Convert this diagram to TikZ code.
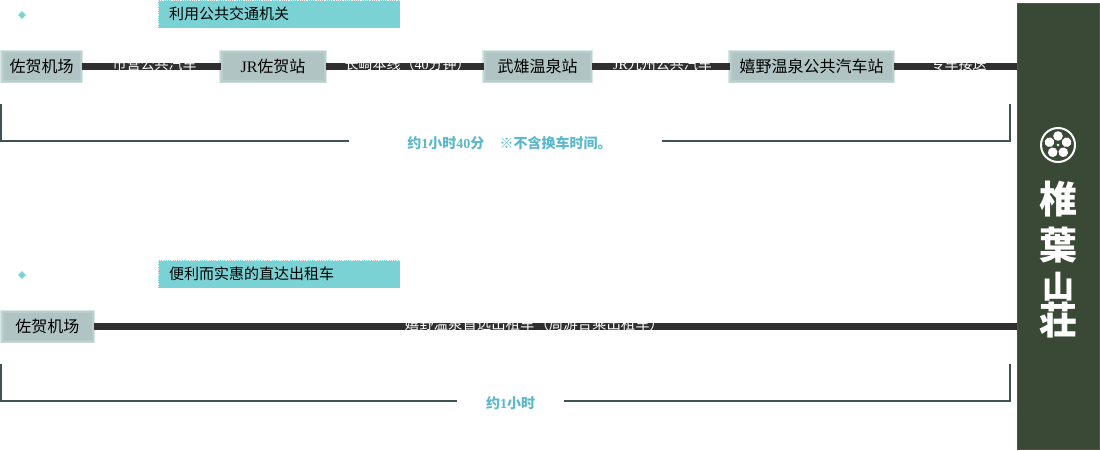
\documentclass[tikz,border=0pt]{standalone}
\usepackage{fontspec}
\setmainfont{Noto Sans CJK SC}
\newfontfamily\logofont{Noto Sans CJK JP}
\newfontfamily\latinfont{Liberation Serif}
\usepackage{tikz}
\usetikzlibrary{
    positioning,
    calc,
    shapes.geometric
}
\definecolor{tealBox}{RGB}{122, 210, 212}
\definecolor{barDark}{RGB}{47, 47, 47}
\definecolor{bracketGrey}{RGB}{64, 82, 84}
\definecolor{timeBlue}{RGB}{91, 184, 204}
\definecolor{stationMid}{RGB}{176, 197, 195}
\definecolor{stationInner}{RGB}{186, 206, 204}
\definecolor{stationSoft}{RGB}{200, 218, 216}
\definecolor{stationPale}{RGB}{216, 232, 230}
\definecolor{sideGreen}{RGB}{58, 72, 54}
\definecolor{sideEdge}{RGB}{74, 88, 70}
\tikzset{
    station/.style={
        fill=stationMid, draw=stationInner, line width=2pt, text=black,
        preaction={draw=stationPale, line width=5pt},
        preaction={draw=stationSoft, line width=3.5pt},
        minimum height=28.5pt, inner sep=0pt, font=\fontsize{16}{16}\selectfont
    },
    railbar/.style={draw=barDark, line width=7pt},
    ridelabel/.style={text=white, font=\fontsize{14}{14}\selectfont, inner sep=0pt},
    headbox/.style={
        fill=tealBox, draw=white, densely dotted, line width=0.8pt,
        minimum width=242pt, minimum height=28pt, inner sep=0pt
    },
    headtext/.style={text=black, inner sep=0pt, font=\fontsize{15}{15}\selectfont},
    marker/.style={diamond, fill=tealBox, minimum size=8pt, inner sep=0pt},
    bracket/.style={draw=bracketGrey, line width=2pt},
    timelabel/.style={text=timeBlue, inner sep=0pt, font=\bfseries\fontsize{14}{14}\selectfont},
    logochar/.style={text=white, inner sep=0pt, font=\logofont\bfseries\fontsize{38}{38}\selectfont},
    petal/.style={fill=white, draw=none}
}
\begin{document}
\begin{tikzpicture}[x=1pt, y=-1pt]
    \useasboundingbox (0,0) rectangle (1100,450);
    \fill[white] (0,0) rectangle (1100,450);

    % side banner
    \node[fill=sideGreen, draw=sideEdge, line width=1pt, minimum width=82pt, minimum height=446pt, inner sep=0pt] (banner) at (1058.5,226.5) {};
    \node[circle, draw=white, line width=2pt, minimum size=34pt, inner sep=0pt] (crest) at (1058,145) {};
    \foreach \ang in {0,72,144,216,288}
        \fill[petal, rotate around={\ang:(crest.center)}] ($ (crest.center)+(0,-9) $) circle (4.8pt);
    \fill[sideGreen] (crest.center) circle (2.6pt);
    \fill[white] (crest.center) circle (1.3pt);
    \node[logochar] (logoA) at (1058,199) {椎};
    \node[logochar] (logoB) at (1058,245) {葉};
    \node[logochar, font=\logofont\bfseries\fontsize{32}{32}\selectfont] (logoC) at (1058,287) {山};
    \node[logochar] (logoD) at (1058,320) {荘};

    % public transport row
    \node[marker] (markA) at (22,15) {};
    \node[headbox] (headA) at (279,14) {};
    \node[headtext, anchor=west] (headAtext) at (169,14) {利用公共交通机关};

    \node[station, minimum width=78pt] (saga) at (41.5,66.5) {佐贺机场};
    \node[station, minimum width=103pt] (jrsaga) at (273,66.5) {{\latinfont JR}佐贺站};
    \node[station, minimum width=106pt] (takeo) at (537.5,66.5) {武雄温泉站};
    \node[station, minimum width=162pt] (ureshino) at (811.5,66.5) {嬉野温泉公共汽车站};
    \coordinate (rowAend) at (banner.west |- saga.east);

    \draw[railbar] (saga) -- (jrsaga);
    \draw[railbar] (jrsaga) -- (takeo);
    \draw[railbar] (takeo) -- (ureshino);
    \draw[railbar] (ureshino) -- (rowAend);

    \node[ridelabel] (rideA) at (154.5,64) {市营公共汽车};
    \node[ridelabel] (rideB) at (407.5,64) {长崎本线（{\latinfont 40}分钟）};
    \node[ridelabel] (rideC) at (662.5,64) {{\latinfont JR}九州公共汽车};
    \node[ridelabel] (rideD) at (958.5,64) {专车接送};

    \coordinate (braceAleft) at (1,104);
    \coordinate (braceAright) at (1010,104);
    \node[minimum width=313pt, inner sep=0pt] (timeA) at (505.5,141) {};
    \node[timelabel] (timeAtext) at (509.5,143) {约{\latinfont 1}小时{\latinfont 40}分\hspace{1.1em}※不含换车时间。};
    \draw[bracket] (braceAleft) |- (timeA.west);
    \draw[bracket] (braceAright) |- (timeA.east);

    % taxi row
    \node[marker] (markB) at (22,275) {};
    \node[headbox] (headB) at (279,274) {};
    \node[headtext, anchor=west] (headBtext) at (169,274) {便利而实惠的直达出租车};

    \node[station, minimum width=90pt] (sagaB) at (47.5,326.5) {佐贺机场};
    \coordinate (rowBend) at (banner.west |- sagaB.east);
    \draw[railbar] (sagaB) -- (rowBend);
    \node[ridelabel, font=\fontsize{14.4}{14.4}\selectfont] (rideE) at (534.5,324) {嬉野温泉首选出租车（周游合乘出租车）};

    \coordinate (braceBleft) at (1,364);
    \coordinate (braceBright) at (1010,364);
    \node[minimum width=107pt, inner sep=0pt] (timeB) at (510.5,401) {};
    \node[timelabel] (timeBtext) at (510.5,403) {约{\latinfont 1}小时};
    \draw[bracket] (braceBleft) |- (timeB.west);
    \draw[bracket] (braceBright) |- (timeB.east);
\end{tikzpicture}
\end{document}
